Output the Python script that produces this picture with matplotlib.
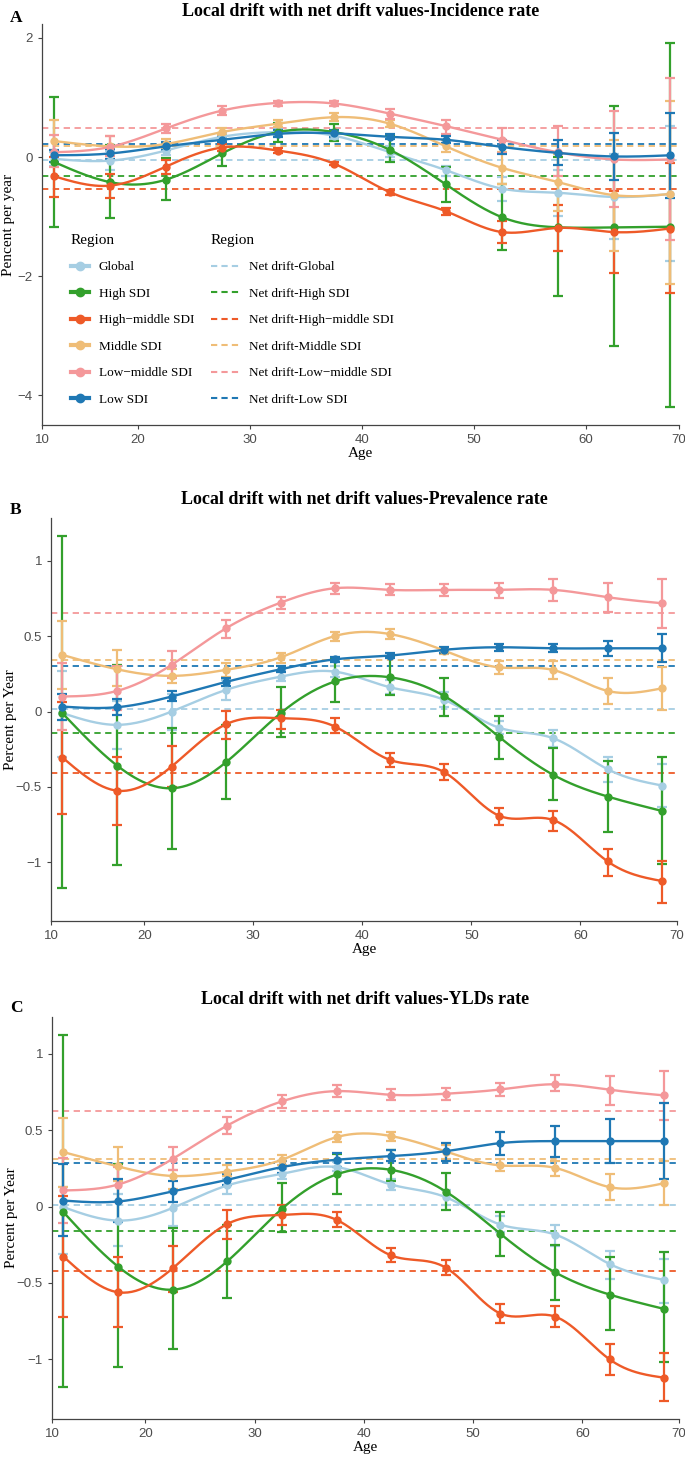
import numpy as np
import matplotlib
matplotlib.use("Agg")
import matplotlib.pyplot as plt
from matplotlib.lines import Line2D

plt.rcParams["font.family"] = ["Liberation Serif", "DejaVu Serif"]

ages = [12.5, 17.5, 22.5, 27.5, 32.5, 37.5, 42.5, 47.5, 52.5, 57.5, 62.5, 67.5]
regions = ["Global", "High SDI", "High\u2212middle SDI", "Middle SDI", "Low\u2212middle SDI", "Low SDI"]
colors = ["#A6CEE3", "#33A02C", "#EE5A28", "#EFBD77", "#F4989A", "#1F78B4"]

# ---- A: incidence rate, local drift (estimate / lower / upper)
inc_global = [-0.03, -0.06, 0.11, 0.34, 0.42, 0.36, 0.08, -0.22, -0.53, -0.60, -0.67, -0.62]
inc_global_lo = [-0.15, -0.22, 0.03, 0.27, 0.36, 0.30, 0.00, -0.31, -0.73, -0.99, -1.38, -1.74]
inc_global_hi = [0.08, 0.10, 0.20, 0.40, 0.48, 0.42, 0.18, -0.15, -0.34, -0.21, 0.05, 0.52]
inc_high = [-0.08, -0.42, -0.38, 0.06, 0.42, 0.42, 0.12, -0.46, -1.01, -1.18, -1.18, -1.17]
inc_high_lo = [-1.17, -1.03, -0.72, -0.15, 0.25, 0.27, -0.08, -0.76, -1.56, -2.34, -3.18, -4.19]
inc_high_hi = [1.01, 0.20, -0.02, 0.25, 0.58, 0.56, 0.36, -0.17, -0.45, 0.00, 0.85, 1.92]
inc_hmid = [-0.32, -0.48, -0.16, 0.16, 0.11, -0.11, -0.59, -0.91, -1.26, -1.19, -1.26, -1.20]
inc_hmid_lo = [-0.67, -0.68, -0.29, 0.10, 0.07, -0.14, -0.63, -0.98, -1.44, -1.57, -1.94, -2.29]
inc_hmid_hi = [0.00, -0.28, -0.05, 0.22, 0.15, -0.08, -0.55, -0.85, -1.08, -0.80, -0.57, -0.10]
inc_mid = [0.27, 0.18, 0.22, 0.42, 0.56, 0.67, 0.56, 0.18, -0.18, -0.42, -0.64, -0.62]
inc_mid_lo = [-0.08, 0.02, 0.14, 0.37, 0.50, 0.60, 0.50, 0.08, -0.45, -0.90, -1.58, -2.13]
inc_mid_hi = [0.63, 0.36, 0.30, 0.48, 0.62, 0.74, 0.62, 0.28, 0.08, 0.05, 0.28, 0.94]
inc_lmid = [0.08, 0.17, 0.48, 0.78, 0.91, 0.90, 0.73, 0.52, 0.29, 0.08, -0.04, -0.04]
inc_lmid_lo = [-0.17, 0.02, 0.40, 0.71, 0.86, 0.86, 0.64, 0.39, 0.06, -0.32, -0.84, -1.39]
inc_lmid_hi = [0.37, 0.36, 0.55, 0.85, 0.95, 0.95, 0.81, 0.63, 0.49, 0.52, 0.77, 1.33]
inc_low = [0.03, 0.06, 0.18, 0.29, 0.39, 0.40, 0.34, 0.29, 0.17, 0.07, 0.01, 0.03]
inc_low_lo = [-0.08, -0.03, 0.12, 0.25, 0.33, 0.34, 0.30, 0.24, 0.05, -0.13, -0.38, -0.68]
inc_low_hi = [0.12, 0.13, 0.25, 0.33, 0.45, 0.46, 0.38, 0.35, 0.28, 0.28, 0.41, 0.74]
inc_net = [-0.05, -0.31, -0.54, 0.18, 0.49, 0.22]

# ---- B: prevalence rate
pre_global = [-0.01, -0.088, 0.0, 0.144, 0.232, 0.265, 0.162, 0.078, -0.106, -0.177, -0.383, -0.491]
pre_global_lo = [-0.30, -0.25, -0.12, 0.077, 0.20, 0.23, 0.117, 0.03, -0.15, -0.232, -0.465, -0.63]
pre_global_hi = [0.27, 0.07, 0.12, 0.21, 0.26, 0.30, 0.21, 0.13, -0.06, -0.12, -0.30, -0.347]
pre_high = [-0.011, -0.358, -0.509, -0.336, -0.011, 0.20, 0.228, 0.104, -0.166, -0.42, -0.564, -0.66]
pre_high_lo = [-1.17, -1.02, -0.91, -0.58, -0.17, 0.066, 0.11, -0.026, -0.316, -0.59, -0.80, -1.01]
pre_high_hi = [1.166, 0.31, -0.11, -0.09, 0.162, 0.347, 0.365, 0.221, -0.03, -0.24, -0.325, -0.30]
pre_hmid = [-0.305, -0.525, -0.365, -0.084, -0.044, -0.10, -0.32, -0.402, -0.69, -0.72, -0.995, -1.125]
pre_hmid_lo = [-0.68, -0.75, -0.50, -0.18, -0.115, -0.144, -0.369, -0.453, -0.75, -0.79, -1.09, -1.27]
pre_hmid_hi = [0.066, -0.30, -0.226, 0.004, 0.01, -0.044, -0.276, -0.347, -0.64, -0.66, -0.91, -0.99]
pre_mid = [0.376, 0.281, 0.237, 0.277, 0.36, 0.502, 0.515, 0.405, 0.294, 0.276, 0.137, 0.155]
pre_mid_lo = [0.148, 0.17, 0.19, 0.23, 0.32, 0.47, 0.48, 0.38, 0.25, 0.215, 0.05, 0.011]
pre_mid_hi = [0.604, 0.41, 0.28, 0.32, 0.39, 0.53, 0.549, 0.42, 0.339, 0.339, 0.221, 0.294]
pre_lmid = [0.10, 0.137, 0.31, 0.553, 0.723, 0.819, 0.808, 0.808, 0.808, 0.808, 0.759, 0.719]
pre_lmid_lo = [-0.12, 0.01, 0.22, 0.49, 0.68, 0.78, 0.772, 0.77, 0.752, 0.737, 0.664, 0.553]
pre_lmid_hi = [0.325, 0.30, 0.40, 0.608, 0.763, 0.852, 0.845, 0.845, 0.856, 0.878, 0.856, 0.878]
pre_low = [0.033, 0.029, 0.10, 0.197, 0.281, 0.347, 0.372, 0.41, 0.427, 0.42, 0.42, 0.42]
pre_low_lo = [-0.055, -0.022, 0.07, 0.17, 0.26, 0.33, 0.355, 0.39, 0.405, 0.395, 0.37, 0.332]
pre_low_hi = [0.12, 0.082, 0.135, 0.22, 0.30, 0.365, 0.39, 0.43, 0.45, 0.447, 0.47, 0.515]
pre_net = [0.018, -0.144, -0.41, 0.343, 0.653, 0.305]

# ---- C: YLDs rate
yld_global = [-0.004, -0.092, -0.009, 0.138, 0.214, 0.258, 0.144, 0.061, -0.118, -0.183, -0.376, -0.48]
yld_global_lo = [-0.31, -0.26, -0.125, 0.083, 0.18, 0.23, 0.105, 0.013, -0.168, -0.255, -0.474, -0.633]
yld_global_hi = [0.13, 0.08, 0.11, 0.18, 0.245, 0.29, 0.18, 0.105, -0.06, -0.118, -0.288, -0.343]
yld_high = [-0.037, -0.393, -0.544, -0.358, -0.015, 0.21, 0.24, 0.098, -0.179, -0.43, -0.576, -0.67]
yld_high_lo = [-1.18, -1.05, -0.93, -0.60, -0.168, 0.083, 0.17, -0.022, -0.321, -0.609, -0.81, -1.02]
yld_high_hi = [1.124, 0.28, -0.14, -0.12, 0.153, 0.345, 0.367, 0.218, -0.037, -0.249, -0.33, -0.30]
yld_hmid = [-0.328, -0.561, -0.404, -0.114, -0.055, -0.087, -0.32, -0.40, -0.70, -0.72, -1.00, -1.12]
yld_hmid_lo = [-0.72, -0.79, -0.56, -0.212, -0.118, -0.135, -0.36, -0.45, -0.76, -0.79, -1.10, -1.27]
yld_hmid_hi = [0.072, -0.33, -0.255, -0.022, 0.007, -0.037, -0.27, -0.35, -0.64, -0.65, -0.90, -0.96]
yld_mid = [0.356, 0.262, 0.20, 0.229, 0.306, 0.454, 0.461, 0.36, 0.269, 0.253, 0.127, 0.153]
yld_mid_lo = [0.131, 0.17, 0.115, 0.20, 0.27, 0.42, 0.432, 0.31, 0.231, 0.20, 0.044, 0.011]
yld_mid_hi = [0.581, 0.389, 0.24, 0.27, 0.34, 0.485, 0.49, 0.40, 0.308, 0.301, 0.214, 0.30]
yld_lmid = [0.105, 0.144, 0.312, 0.53, 0.688, 0.755, 0.731, 0.738, 0.766, 0.80, 0.764, 0.727]
yld_lmid_lo = [-0.11, 0.03, 0.236, 0.476, 0.646, 0.716, 0.694, 0.70, 0.725, 0.755, 0.665, 0.565]
yld_lmid_hi = [0.32, 0.26, 0.389, 0.585, 0.727, 0.793, 0.771, 0.775, 0.81, 0.86, 0.855, 0.885]
yld_low = [0.039, 0.033, 0.10, 0.175, 0.258, 0.306, 0.33, 0.362, 0.415, 0.428, 0.428, 0.428]
yld_low_lo = [-0.196, -0.10, 0.03, 0.14, 0.22, 0.26, 0.30, 0.30, 0.34, 0.323, 0.284, 0.181]
yld_low_hi = [0.28, 0.18, 0.17, 0.21, 0.30, 0.35, 0.367, 0.417, 0.487, 0.524, 0.57, 0.677]
yld_net = [0.011, -0.157, -0.419, 0.312, 0.624, 0.284]


def spline(x, y, num=300):
    # natural cubic spline through the points, for the smooth curves
    x = np.asarray(x, float)
    y = np.asarray(y, float)
    n = len(x)
    h = np.diff(x)
    A = np.zeros((n, n))
    r = np.zeros(n)
    A[0, 0] = A[-1, -1] = 1
    for i in range(1, n - 1):
        A[i, i - 1] = h[i - 1]
        A[i, i] = 2 * (h[i - 1] + h[i])
        A[i, i + 1] = h[i]
        r[i] = 3 * ((y[i + 1] - y[i]) / h[i] - (y[i] - y[i - 1]) / h[i - 1])
    c = np.linalg.solve(A, r)
    b = (y[1:] - y[:-1]) / h - h * (2 * c[:-1] + c[1:]) / 3
    d = (c[1:] - c[:-1]) / (3 * h)
    xs = np.linspace(x[0], x[-1], num)
    idx = np.clip(np.searchsorted(x, xs) - 1, 0, n - 2)
    t = xs - x[idx]
    ys = y[idx] + b[idx] * t + c[idx] * t ** 2 + d[idx] * t ** 3
    return xs, ys


def draw_panel(ax, series, net, xlim, ylim, yticks, yticklabels):
    for k, (est, lo, hi) in enumerate(series):
        ax.axhline(net[k], color=colors[k], lw=1.3, ls=(0, (3.5, 2.5)), zorder=1)
    for k, (est, lo, hi) in enumerate(series):
        col = colors[k]
        est = np.array(est)
        err = [est - np.array(lo), np.array(hi) - est]
        ax.errorbar(ages, est, yerr=err, fmt="none", ecolor=col, elinewidth=1.6,
                    capsize=3.6, capthick=1.6, zorder=2 + k * 0.1)
        xs, ys = spline(ages, est)
        ax.plot(xs, ys, color=col, lw=1.7, zorder=3 + k * 0.1)
        ax.plot(ages, est, "o", color=col, ms=5, zorder=3 + k * 0.1)
    ax.set_xlim(*xlim)
    ax.set_ylim(*ylim)
    ax.set_xticks([xlim[0], 20, 30, 40, 50, 60, xlim[1]])
    ax.set_xticklabels(["10", "20", "30", "40", "50", "60", "70"])
    ax.set_yticks(yticks)
    ax.set_yticklabels(yticklabels)
    for s in ["top", "right"]:
        ax.spines[s].set_visible(False)
    for s in ["left", "bottom"]:
        ax.spines[s].set_color("#444444")
        ax.spines[s].set_linewidth(0.9)
    ax.tick_params(colors="#444444", labelcolor="#4D4D4D", length=3, width=0.8, labelsize=9.5)
    for lab in ax.get_xticklabels() + ax.get_yticklabels():
        lab.set_family("Liberation Sans")


fig = plt.figure(figsize=(6.85, 14.6), dpi=100)
W, H = 685, 1460
axA = fig.add_axes([42 / W, 1 - 425 / H, 637 / W, 401 / H])
axB = fig.add_axes([51 / W, 1 - 921 / H, 626 / W, 403 / H])
axC = fig.add_axes([52 / W, 1 - 1419 / H, 627 / W, 402 / H])

inc = [(inc_global, inc_global_lo, inc_global_hi), (inc_high, inc_high_lo, inc_high_hi),
       (inc_hmid, inc_hmid_lo, inc_hmid_hi), (inc_mid, inc_mid_lo, inc_mid_hi),
       (inc_lmid, inc_lmid_lo, inc_lmid_hi), (inc_low, inc_low_lo, inc_low_hi)]
pre = [(pre_global, pre_global_lo, pre_global_hi), (pre_high, pre_high_lo, pre_high_hi),
       (pre_hmid, pre_hmid_lo, pre_hmid_hi), (pre_mid, pre_mid_lo, pre_mid_hi),
       (pre_lmid, pre_lmid_lo, pre_lmid_hi), (pre_low, pre_low_lo, pre_low_hi)]
yld = [(yld_global, yld_global_lo, yld_global_hi), (yld_high, yld_high_lo, yld_high_hi),
       (yld_hmid, yld_hmid_lo, yld_hmid_hi), (yld_mid, yld_mid_lo, yld_mid_hi),
       (yld_lmid, yld_lmid_lo, yld_lmid_hi), (yld_low, yld_low_lo, yld_low_hi)]

draw_panel(axA, inc, inc_net, (11.45, 68.3), (-4.5, 2.235), [-4, -2, 0, 2],
           ["\u22124", "\u22122", "0", "2"])
draw_panel(axB, pre, pre_net, (11.45, 68.85), (-1.39, 1.285), [-1, -0.5, 0, 0.5, 1],
           ["\u22121", "\u22120.5", "0", "0.5", "1"])
draw_panel(axC, yld, yld_net, (11.45, 68.85), (-1.39, 1.24), [-1, -0.5, 0, 0.5, 1],
           ["\u22121", "\u22120.5", "0", "0.5", "1"])

# titles, panel letters, axis labels
titles = ["Local drift with net drift values-Incidence rate",
          "Local drift with net drift values-Prevalence rate",
          "Local drift with net drift values-YLDs rate"]
for ax, t, ty, letter, ly in [(axA, titles[0], 12, "A", 18), (axB, titles[1], 500, "B", 510),
                              (axC, titles[2], 1000, "C", 1008)]:
    pos = ax.get_position()
    fig.text(pos.x0 + pos.width / 2, 1 - ty / H, t, ha="center", va="center",
             fontsize=13, fontweight="bold")
    fig.text(10 / W, 1 - ly / H, letter, ha="left", va="center", fontsize=12.5, fontweight="bold")
    ax.set_xlabel("Age", fontsize=11, labelpad=1)

axA.set_ylabel("Pencent per year", fontsize=11)
axB.set_ylabel("Percent per Year", fontsize=11)
axC.set_ylabel("Percent per Year", fontsize=11)
axA.yaxis.set_label_coords((15 - 42) / 637, 0.5)
axB.yaxis.set_label_coords((17 - 51) / 626, 0.5)
axC.yaxis.set_label_coords((18 - 52) / 627, 0.5)

# legends in panel A
pt_handles = [Line2D([], [], color=c, lw=3, marker="o", ms=6) for c in colors]
dash_handles = [Line2D([], [], color=c, lw=1.5, ls=(0, (3, 2))) for c in colors]
leg1 = axA.legend(pt_handles, regions, title="Region", loc="upper left",
                  bbox_to_anchor=((71 - 42) / 637, (425 - 234) / 401), frameon=False,
                  fontsize=9.5, title_fontsize=11, handlelength=1.35, handletextpad=0.75,
                  labelspacing=1.08, borderpad=0, borderaxespad=0, alignment="left")
axA.add_artist(leg1)
net_labels = ["Net drift-" + r for r in regions]
axA.legend(dash_handles, net_labels, title="Region", loc="upper left",
           bbox_to_anchor=((211 - 42) / 637, (425 - 234) / 401), frameon=False,
           fontsize=9.5, title_fontsize=11, handlelength=2.3, handletextpad=0.6,
           labelspacing=1.08, borderpad=0, borderaxespad=0, alignment="left")

fig.savefig("out.png", dpi=100)
